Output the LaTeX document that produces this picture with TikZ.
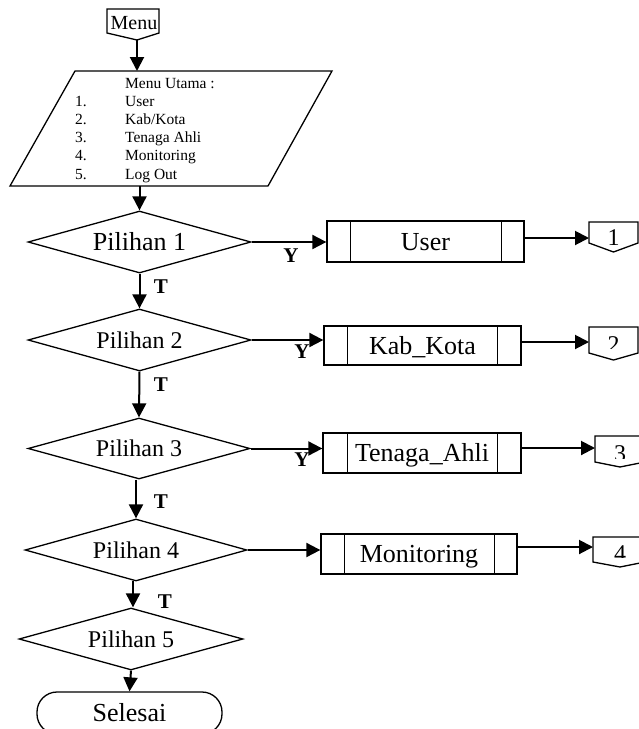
\documentclass[tikz,border=0pt]{standalone}
\usepackage{fontspec}
\setmainfont{Liberation Serif}
\usetikzlibrary{arrows.meta,shapes.geometric,calc}
\begin{document}
\begin{tikzpicture}[x=1pt,y=-1pt,
  outline/.style={draw=black, line width=1.3pt},
  flow/.style={line width=2pt, -{Triangle[length=14pt,width=14pt]}},
  dec/.style={diamond, outline, aspect=3.6, inner sep=0pt, text height=16pt, text depth=0pt, font=\fontsize{24}{28}\selectfont},
  proc/.style={rectangle, outline, inner sep=0pt, text height=17pt, text depth=0pt, font=\fontsize{26}{30}\selectfont},
  term/.style={rectangle, outline, rounded corners=20pt, inner sep=0pt, text height=17pt, text depth=0pt, font=\fontsize{26}{30}\selectfont},
  lbl/.style={inner sep=0pt, font=\fontsize{21}{24}\selectfont\bfseries},
  digit/.style={inner sep=0pt, text height=16pt, text depth=0pt, font=\fontsize{24}{28}\selectfont}
]
\useasboundingbox (0,0) rectangle (639,729);

% Menu off-page connector
\draw[outline] (107,9) -- (159,9) -- (159,33) -- (137,40) -- (107,33) -- cycle;
\node[inner sep=0pt, font=\fontsize{20}{24}\selectfont] (menu) at (134,23) {Menu};
\coordinate (menutip) at (137,40);

% Main menu parallelogram
\draw[outline] (75,71) -- (332,71) -- (268,186) -- (10,186) -- cycle;
\coordinate (ptop) at (137,71);
\coordinate (pbot) at (139.5,186);
\node[anchor=base west, inner sep=0pt, font=\fontsize{15.5}{18.2}\selectfont] (mu) at (75,88) {\begin{tabular}[t]{@{}p{50pt}@{}l@{}}
 & Menu Utama :\\
1. & User\\
2. & Kab/Kota\\
3. & Tenaga Ahli\\
4. & Monitoring\\
5. & Log Out
\end{tabular}};

% Decisions
\node[dec, minimum width=223pt, minimum height=62pt, font=\fontsize{26}{30}\selectfont, text height=17pt] (d1) at (139.5,242) {Pilihan 1};
\node[dec, minimum width=223pt, minimum height=62pt] (d2) at (139.5,340) {Pilihan 2};
\node[dec, minimum width=222pt, minimum height=61pt] (d3) at (139,448.5) {Pilihan 3};
\node[dec, minimum width=222pt, minimum height=62pt] (d4) at (136,550) {Pilihan 4};
\node[dec, minimum width=224pt, minimum height=62pt] (d5) at (131,639) {Pilihan 5};

% Processes
\node[proc, minimum width=197pt, minimum height=41pt] (p1) at (425.5,241.5) {User};
\node[proc, minimum width=197pt, minimum height=39pt] (p2) at (422.5,345.5) {Kab\_Kota};
\node[proc, minimum width=198pt, minimum height=40pt] (p3) at (422,453) {Tenaga\_Ahli};
\node[proc, minimum width=196pt, minimum height=40pt] (p4) at (419,554) {Monitoring};
\foreach \p/\l/\r in {p1/24/23, p2/24/24, p3/25/24, p4/24/23}{
  \draw[outline] ([xshift=\l pt]\p.north west) -- ([xshift=\l pt]\p.south west);
  \draw[outline] ([xshift=-\r pt]\p.north east) -- ([xshift=-\r pt]\p.south east);
}

% Terminator
\node[term, minimum width=185pt, minimum height=42pt] (end) at (129.5,713) {Selesai};

% Off-page connectors
\draw[outline] (589,222) -- (638,222) -- (638,243) -- (613.5,252) -- (589,243) -- cycle;
\node[digit] (n1) at (613.5,237) {1};
\draw[outline] (589,327) -- (638,327) -- (638,353) -- (613.5,360) -- (589,353) -- cycle;
\begin{scope}\clip (589,327) rectangle (638,348);
\node[digit] (n2) at (613.5,344) {2};
\end{scope}
\draw[outline] (595,436) -- (645,436) -- (645,462) -- (620,467) -- (595,462) -- cycle;
\begin{scope}\clip (595,436) rectangle (645,458);
\node[digit] (n3) at (620,453) {3};
\end{scope}
\draw[outline] (593,537) -- (645,537) -- (645,562) -- (620,567) -- (593,562) -- cycle;
\begin{scope}\clip (593,537) rectangle (645,557.5);
\node[digit] (n4) at (620,553.5) {4};
\end{scope}
\coordinate (c1) at (589,238);
\coordinate (c2) at (589,342);
\coordinate (c3) at (595,448);
\coordinate (c4) at (593,547);

% Flow lines
\draw[flow] (menutip) -- (ptop);
\draw[flow] (pbot) -- (d1.north);
\draw[flow] (d1.south) -- (d2.north);
\draw[flow] (d2.south) -- (d3.north);
\draw[flow] (d4.north |- d3.south) -- (d4.north);
\draw[flow] (d5.north -| 133,0) ++(0,-26) -- (d5.north -| 133,0);
\draw[flow] (d5.south) -- (end.north);

\draw[flow] (d1.east) -- (d1.east -| p1.west);
\draw[flow] (d2.east) -- (d2.east -| p2.west);
\draw[flow] (d3.east) -- (d3.east -| p3.west);
\draw[flow] (d4.east) -- (d4.east -| p4.west);

\draw[flow] (c1 -| p1.east) -- (c1);
\draw[flow] (c2 -| p2.east) -- (c2);
\draw[flow] (c3 -| p3.east) -- (c3);
\draw[flow] (c4 -| p4.east) -- (c4);

% Labels
\node[lbl] (y1) at (291,256) {Y};
\node[lbl] (y2) at (302,352) {Y};
\node[lbl] (y3) at (302,460) {Y};
\node[lbl] (t1) at (161,287) {T};
\node[lbl] (t2) at (161,385) {T};
\node[lbl] (t3) at (161,502) {T};
\node[lbl] (t4) at (165,602) {T};
\end{tikzpicture}
\end{document}
